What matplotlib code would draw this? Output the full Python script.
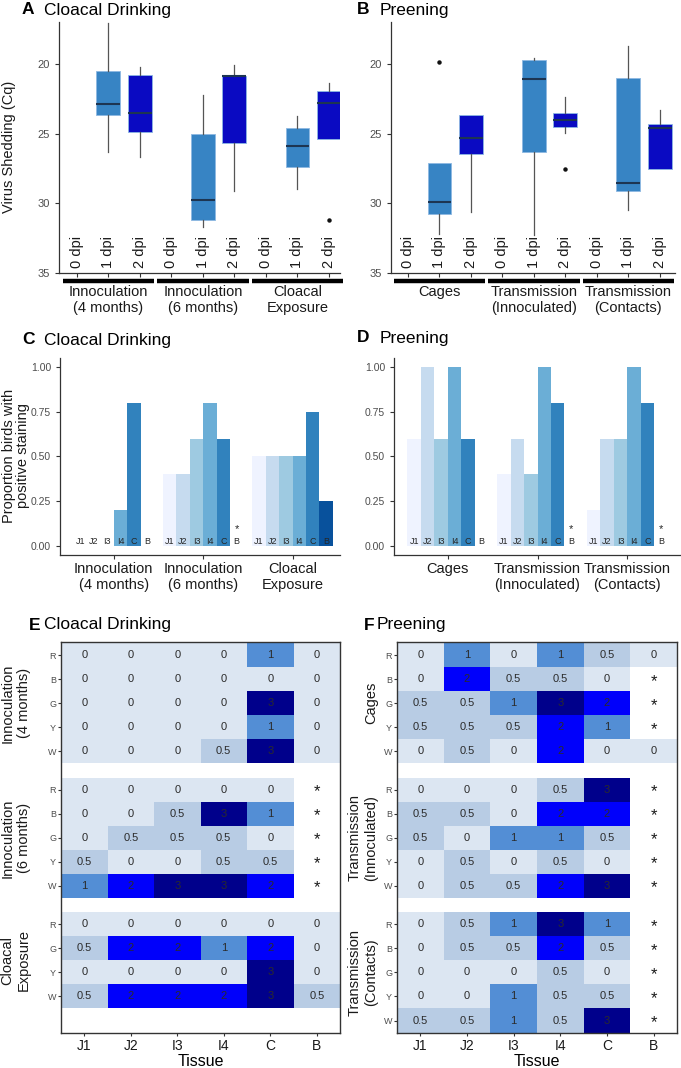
"""Virus shedding, staining proportions and tissue scores: six panel figure."""

import matplotlib.pyplot as plt
import matplotlib.transforms as mtransforms
import numpy as np
from matplotlib.colors import ListedColormap

plt.rcParams["font.family"] = ["Liberation Sans", "DejaVu Sans"]

FIG_W, FIG_H = 681, 1068
NA = np.nan

# ----------------------------------------------------------------------------
#                                                                        data
# ----------------------------------------------------------------------------
dpi_labels = ["0 dpi", "1 dpi", "2 dpi"]
drinking_groups = ["Innoculation\n(4 months)", "Innoculation\n(6 months)",
                   "Cloacal\nExposure"]
preening_groups = ["Cages", "Transmission\n(Innoculated)",
                   "Transmission\n(Contacts)"]

# Cq box summaries per group: (whisker low, q1, median, q3, whisker high)
drinking_1dpi = [(17.1, 20.5, 22.9, 23.7, 26.3),
                 (22.2, 25.0, 29.8, 31.2, 31.7),
                 (23.75, 24.6, 25.9, 27.4, 28.95)]
drinking_2dpi = [(20.2, 20.8, 23.5, 24.9, 26.7),
                 (20.05, 20.9, 20.9, 25.7, 29.1),
                 (21.35, 21.95, 22.8, 25.4, 25.4)]
drinking_1dpi_out = [[], [], []]
drinking_2dpi_out = [[], [], [31.2]]

preening_1dpi = [(27.1, 27.1, 29.9, 30.8, 32.2),
                 (19.6, 19.7, 21.1, 26.3, 32.25),
                 (18.7, 21.0, 28.55, 29.1, 30.5)]
preening_2dpi = [(23.7, 23.7, 25.3, 26.5, 30.6),
                 (22.35, 23.55, 24.05, 24.5, 24.95),
                 (23.3, 24.3, 24.6, 27.55, 27.55)]
preening_1dpi_out = [[19.9], [], []]
preening_2dpi_out = [[], [27.55], []]

tissues = ["J1", "J2", "I3", "I4", "C", "B"]

# proportion of birds with positive staining, per group, per tissue
drinking_prop = [[0, 0, 0, 0.2, 0.8, 0],
                 [0.4, 0.4, 0.6, 0.8, 0.6, NA],
                 [0.5, 0.5, 0.5, 0.5, 0.75, 0.25]]
preening_prop = [[0.6, 1.0, 0.6, 1.0, 0.6, 0],
                 [0.4, 0.6, 0.4, 1.0, 0.8, NA],
                 [0.2, 0.6, 0.6, 1.0, 0.8, NA]]

# staining scores, rows are birds
drinking_birds = [["R", "B", "G", "Y", "W"],
                  ["R", "B", "G", "Y", "W"],
                  ["R", "G", "Y", "W"]]
drinking_scores = [
    [[0, 0, 0, 0, 1, 0],
     [0, 0, 0, 0, 0, 0],
     [0, 0, 0, 0, 3, 0],
     [0, 0, 0, 0, 1, 0],
     [0, 0, 0, 0.5, 3, 0]],
    [[0, 0, 0, 0, 0, NA],
     [0, 0, 0.5, 3, 1, NA],
     [0, 0.5, 0.5, 0.5, 0, NA],
     [0.5, 0, 0, 0.5, 0.5, NA],
     [1, 2, 3, 3, 2, NA]],
    [[0, 0, 0, 0, 0, 0],
     [0.5, 2, 2, 1, 2, 0],
     [0, 0, 0, 0, 3, 0],
     [0.5, 2, 2, 2, 3, 0.5]],
]
preening_birds = [["R", "B", "G", "Y", "W"],
                  ["R", "B", "G", "Y", "W"],
                  ["R", "B", "G", "Y", "W"]]
preening_scores = [
    [[0, 1, 0, 1, 0.5, 0],
     [0, 2, 0.5, 0.5, 0, NA],
     [0.5, 0.5, 1, 3, 2, NA],
     [0.5, 0.5, 0.5, 2, 1, NA],
     [0, 0.5, 0, 2, 0, 0]],
    [[0, 0, 0, 0.5, 3, NA],
     [0.5, 0.5, 0, 2, 2, NA],
     [0.5, 0, 1, 1, 0.5, NA],
     [0, 0.5, 0, 0.5, 0, NA],
     [0, 0.5, 0.5, 2, 3, NA]],
    [[0, 0.5, 1, 3, 1, NA],
     [0, 0.5, 0.5, 2, 0.5, NA],
     [0, 0, 0, 0.5, 0, NA],
     [0, 0, 1, 0.5, 0.5, NA],
     [0.5, 0.5, 1, 0.5, 3, NA]],
]

# ----------------------------------------------------------------------------
#                                                                      styles
# ----------------------------------------------------------------------------
DAY_COLORS = {1: "#3784c4", 2: "#0a0ac2"}
TISSUE_COLORS = ["#eff3ff", "#c6dbef", "#9ecae1", "#6baed6", "#3182bd",
                 "#08519c"]
SCORE_LEVELS = [0, 0.5, 1, 2, 3]
SCORE_COLORS = ["#dce6f2", "#b8cce4", "#538ed5", "#0000fb", "#00008b"]
AXIS_COLOR = "#333333"


def _axes_px(figure, left, top, width, height):
    return figure.add_axes([left / FIG_W, 1 - (top + height) / FIG_H,
                            width / FIG_W, height / FIG_H])


def _title(figure, x_letter, x_text, y, letter, text):
    figure.text(x_letter / FIG_W, 1 - y / FIG_H, letter, fontsize=12.5,
                fontweight="bold", va="center")
    figure.text(x_text / FIG_W, 1 - y / FIG_H, text, fontsize=12.5,
                va="center")


def _classic(axes):
    for side in ("top", "right"):
        axes.spines[side].set_visible(False)
    for side in ("left", "bottom"):
        axes.spines[side].set_color(AXIS_COLOR)
        axes.spines[side].set_linewidth(0.9)
    axes.tick_params(colors=AXIS_COLOR, labelcolor="#4d4d4d", length=3,
                     width=0.8)


def _shedding_panel(axes, groups, day1, day2, out1, out2, xlim):
    stats, colors = [], []
    for g in range(3):
        for day, boxes, outs in ((1, day1, out1), (2, day2, out2)):
            low, q1, med, q3, high = boxes[g]
            stats.append(dict(whislo=low, q1=q1, med=med, q3=q3, whishi=high,
                              fliers=outs[g], label=""))
            colors.append(day)
    positions = [g * 3 + d + 1 for g in range(3) for d in (1, 2)]
    drawn = axes.bxp(
        stats, positions=positions, widths=0.76, patch_artist=True,
        showcaps=False,
        boxprops=dict(edgecolor="#8db8e2", linewidth=0.6),
        whiskerprops=dict(color="#555555", linewidth=0.9),
        medianprops=dict(color="#1d3552", linewidth=1.5),
        flierprops=dict(marker="o", markersize=2.2, markerfacecolor="#111111",
                        markeredgecolor="#111111"),
    )
    for box, day in zip(drawn["boxes"], colors):
        box.set_facecolor(DAY_COLORS[day])
    _classic(axes)
    axes.set_ylim(35, 17)
    axes.set_yticks([20, 25, 30, 35])
    axes.tick_params(axis="y", labelsize=8)
    axes.set_xlim(*xlim)
    axes.set_xticks(range(1, 10))
    axes.set_xticklabels([])
    for g in range(3):
        for d, label in enumerate(dpi_labels):
            axes.text(g * 3 + d + 1, 34.65, label, rotation=90, ha="center",
                      va="bottom", fontsize=10.5, color="#1a1a1a")
    blend = mtransforms.blended_transform_factory(axes.transData,
                                                  axes.transAxes)
    for g, name in enumerate(groups):
        axes.plot([g * 3 + 0.55, g * 3 + 3.45], [-0.032, -0.032],
                  transform=blend, color="black", linewidth=3.2,
                  solid_capstyle="butt", clip_on=False)
        axes.text(g * 3 + 2, -0.047, name, transform=blend, ha="center",
                  va="top", fontsize=10.5, color="#1a1a1a")


def _proportion_panel(axes, groups, proportions, xlim):
    values = np.array(proportions, dtype=float)
    bar_width = 0.15
    for t, tissue in enumerate(tissues):
        x = np.arange(1, 4) + (t - 2.5) * bar_width
        heights = np.nan_to_num(values[:, t])
        axes.bar(x, heights, width=bar_width, color=TISSUE_COLORS[t],
                 linewidth=0)
        for g in range(3):
            axes.text(x[g], 0.0, tissue, ha="center", va="bottom",
                      fontsize=6.5, color="#262626")
            if np.isnan(values[g, t]):
                axes.text(x[g], 0.065, "*", ha="center", va="bottom",
                          fontsize=8, color="#262626")
    _classic(axes)
    axes.set_ylim(-0.05, 1.05)
    axes.set_yticks([0, 0.25, 0.5, 0.75, 1.0])
    axes.set_yticklabels(["0.00", "0.25", "0.50", "0.75", "1.00"])
    axes.tick_params(axis="y", labelsize=7.5)
    axes.set_xlim(*xlim)
    axes.set_xticks([1, 2, 3])
    axes.set_xticklabels(groups, fontsize=10.5, color="#1a1a1a")
    axes.tick_params(axis="x", pad=2)


def _score_panel(axes, groups, birds, scores, label_x):
    cmap = ListedColormap(SCORE_COLORS)
    offsets = [0, 5.6, 11.2]
    blend = mtransforms.blended_transform_factory(axes.transAxes,
                                                  axes.transData)
    tick_pos, tick_lab = [], []
    for name, rows, block, off in zip(groups, birds, scores, offsets):
        values = np.array(block, dtype=float)
        index = np.searchsorted(SCORE_LEVELS, np.nan_to_num(values))
        index = np.ma.masked_where(np.isnan(values), index)
        axes.pcolormesh(np.arange(7) - 0.5, off + np.arange(len(rows) + 1) - 0.5,
                        index, cmap=cmap, vmin=-0.5, vmax=4.5,
                        antialiased=False, linewidth=0)
        for r in range(len(rows)):
            for c in range(len(tissues)):
                value = values[r, c]
                if np.isnan(value):
                    axes.text(c, off + r + 0.08, "*", ha="center",
                              va="center", fontsize=12, color="#1a1a1a")
                else:
                    axes.text(c, off + r, f"{value:g}", ha="center",
                              va="center", fontsize=8, color="#2b2b2b")
        tick_pos += list(off + np.arange(len(rows)))
        tick_lab += rows
        axes.text(label_x, off + (len(rows) - 1) / 2, name, transform=blend,
                  rotation=90, rotation_mode="anchor", ha="center",
                  va="bottom", fontsize=10.5, color="#1a1a1a")
    axes.set_xlim(-0.5, 5.5)
    axes.set_ylim(15.72, -0.55)
    axes.set_yticks(tick_pos)
    axes.set_yticklabels(tick_lab, fontsize=6.5, color="#4d4d4d")
    axes.set_xticks(range(len(tissues)))
    axes.set_xticklabels(tissues, fontsize=10, color="#1a1a1a")
    axes.tick_params(axis="y", length=2, pad=1.5, color=AXIS_COLOR)
    axes.tick_params(axis="x", length=2, pad=2, color=AXIS_COLOR)
    axes.set_xlabel("Tissue", fontsize=11.5, labelpad=1)
    for spine in axes.spines.values():
        spine.set_color(AXIS_COLOR)
        spine.set_linewidth(1.0)


def main():
    figure = plt.figure(figsize=(FIG_W / 100, FIG_H / 100), dpi=100)

    # A / B: virus shedding boxes
    axes_a = _axes_px(figure, 59, 22, 281, 251)
    _shedding_panel(axes_a, drinking_groups, drinking_1dpi, drinking_2dpi,
                    drinking_1dpi_out, drinking_2dpi_out, (0.43, 9.35))
    axes_b = _axes_px(figure, 391, 22, 284, 251)
    _shedding_panel(axes_b, preening_groups, preening_1dpi, preening_2dpi,
                    preening_1dpi_out, preening_2dpi_out, (0.46, 9.48))
    figure.text(9 / FIG_W, 1 - 147 / FIG_H, "Virus Shedding (Cq)",
                rotation=90, ha="center", va="center", fontsize=10.5,
                color="#1a1a1a")
    _title(figure, 22, 44, 10, "A", "Cloacal Drinking")
    _title(figure, 357, 380, 10, "B", "Preening")

    # C / D: proportion bars
    axes_c = _axes_px(figure, 60, 358, 280, 197)
    _proportion_panel(axes_c, drinking_groups, drinking_prop, (0.4, 3.53))
    axes_d = _axes_px(figure, 394, 358, 287, 197)
    _proportion_panel(axes_d, preening_groups, preening_prop, (0.4, 3.6))
    figure.text(16 / FIG_W, 1 - 456 / FIG_H,
                "Proportion birds with\npositive staining", rotation=90,
                ha="center", va="center", fontsize=10.5, color="#1a1a1a",
                linespacing=1.0)
    _title(figure, 22, 44, 340, "C", "Cloacal Drinking")
    _title(figure, 357, 380, 338, "D", "Preening")

    # E / F: tissue score heatmaps
    axes_e = _axes_px(figure, 61, 642, 279, 391)
    _score_panel(axes_e, drinking_groups, drinking_birds, drinking_scores,
                 -0.108)
    axes_f = _axes_px(figure, 397, 642, 280, 391)
    _score_panel(axes_f, preening_groups, preening_birds, preening_scores,
                 -0.068)
    _title(figure, 29, 44, 625, "E", "Cloacal Drinking")
    _title(figure, 364, 377, 625, "F", "Preening")

    figure.savefig("out.png", dpi=100)


main()
